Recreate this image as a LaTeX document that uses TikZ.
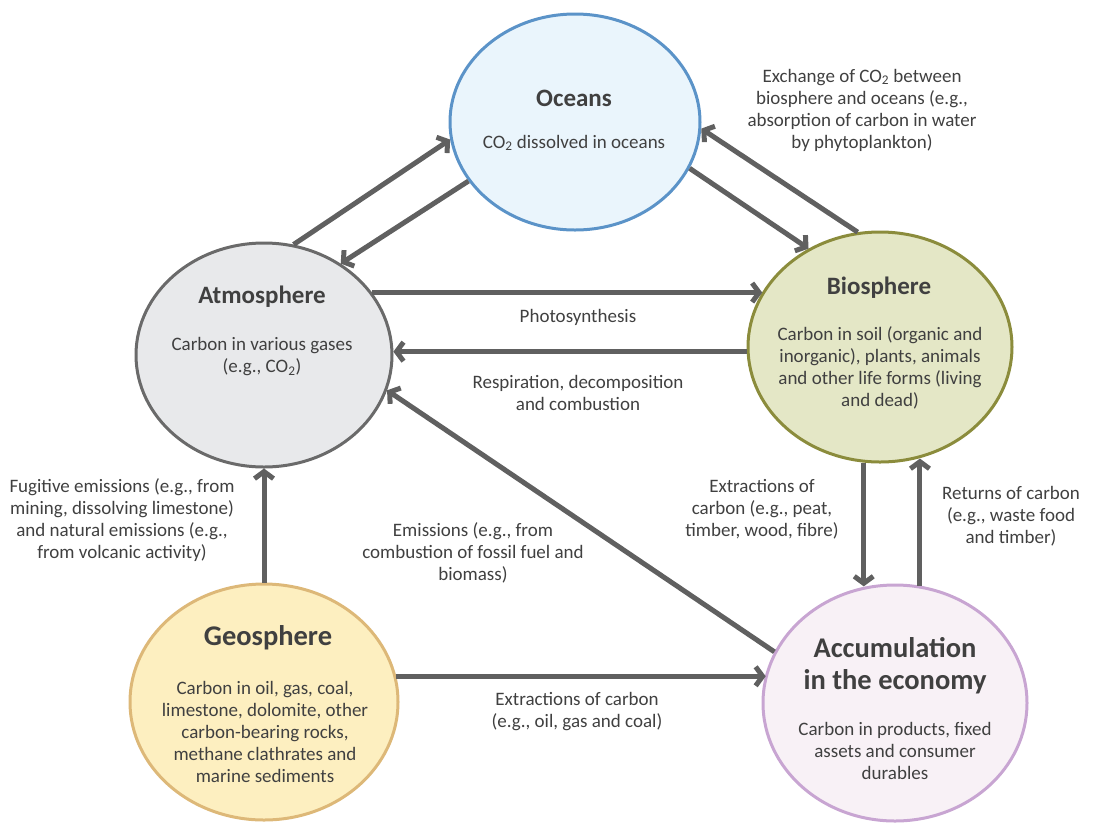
\documentclass[tikz,border=0pt]{standalone}
\usepackage{fontspec}
\setmainfont{Carlito}
\usetikzlibrary{shapes.geometric,arrows.meta}

\definecolor{txtgray}{HTML}{404040}
\definecolor{flowgray}{HTML}{606060}
\definecolor{oceanfill}{HTML}{EAF5FC}
\definecolor{oceanline}{HTML}{5B93C8}
\definecolor{atmfill}{HTML}{E8E9EB}
\definecolor{atmline}{HTML}{6A6A6A}
\definecolor{biofill}{HTML}{E4E7C6}
\definecolor{bioline}{HTML}{8B8C3C}
\definecolor{geofill}{HTML}{FDEFC0}
\definecolor{geoline}{HTML}{DDB878}
\definecolor{accfill}{HTML}{F8F1F6}
\definecolor{accline}{HTML}{C8A5D2}

\tikzstyle{sphere}=[ellipse,line width=3pt,inner sep=0pt]
\tikzstyle{title}=[text=txtgray,font=\fontsize{25}{30}\selectfont\bfseries]
\tikzstyle{bigtitle}=[text=txtgray,align=center,font=\fontsize{28.5}{32}\selectfont\bfseries]
\tikzstyle{body}=[text=txtgray,align=center,font=\fontsize{19}{22}\selectfont]
\tikzstyle{flow}=[line width=5pt,draw=flowgray,-{Straight Barb[length=7pt,width=19pt]}]

\begin{document}
\begin{tikzpicture}[x=1pt,y=-1pt]
\useasboundingbox (0,0) rectangle (1093,823);

% reservoirs
\node[sphere,fill=oceanfill,draw=oceanline,minimum width=250pt,minimum height=216pt] (ocn) at (575,122) {};
\node[sphere,fill=atmfill,draw=atmline,minimum width=256pt,minimum height=224pt] (atm) at (264,355) {};
\node[sphere,fill=biofill,draw=bioline,minimum width=264pt,minimum height=230pt] (bio) at (880,347) {};
\node[sphere,fill=geofill,draw=geoline,minimum width=268pt,minimum height=236pt] (geo) at (264,702) {};
\node[sphere,fill=accfill,draw=accline,minimum width=264pt,minimum height=236pt] (acc) at (895,703) {};

\node[title] (ocntitle) at (574,98) {Oceans};
\node[body] (ocntext) at (574,143) {CO\textsubscript{2} dissolved in oceans};
\node[title] (atmtitle) at (262,297) {Atmosphere};
\node[body] (atmtext) at (262,357) {Carbon in various gases\\(e.g., CO\textsubscript{2})};
\node[title] (biotitle) at (879,288) {Biosphere};
\node[body] (biotext) at (880,368) {Carbon in soil (organic and\\inorganic), plants, animals\\and other life forms (living\\and dead)};
\node[bigtitle] (geotitle) at (268,638) {Geosphere};
\node[body] (geotext) at (265,732) {Carbon in oil, gas, coal,\\limestone, dolomite, other\\carbon-bearing rocks,\\methane clathrates and\\marine sediments};
\node[bigtitle] (acctitle) at (895,666) {Accumulation\\in the economy};
\node[body] (acctext) at (895,751) {Carbon in products, fixed\\assets and consumer\\durables};

% flows
\draw[flow] (atm.75) -- (ocn.188);
\draw[flow] (ocn.209) -- (atm.50);
\draw[flow] (ocn.338) -- (bio.126);
\draw[flow] (bio.101) -- (ocn.357);
\draw[flow] (atm.30) -- (atm.30 -| bio.155);
\draw[flow] (bio.182) -- (bio.182 -| atm.2);
\draw[flow] (geo.north) -- (atm.south);
\draw[flow] (acc.157) -- (atm.344);
\draw[flow] (geo.11.7) -- (geo.11.7 -| acc.167.7);
\draw[flow] (bio.262.5) -- (bio.262.5 |- acc.104.6);
\draw[flow] (acc.78.8) -- (acc.78.8 |- bio.289);

% flow labels
\node[body] (exchange) at (862,110) {Exchange of CO\textsubscript{2} between\\biosphere and oceans (e.g.,\\absorption of carbon in water\\by phytoplankton)};
\node[body] (photo) at (578,317) {Photosynthesis};
\node[body] (resp) at (578,393) {Respiration, decomposition\\and combustion};
\node[body] (fugitive) at (122,520) {Fugitive emissions (e.g., from\\mining, dissolving limestone)\\and natural emissions (e.g.,\\from volcanic activity)};
\node[body] (emis) at (473,553) {Emissions (e.g., from\\combustion of fossil fuel and\\biomass)};
\node[body] (extrbio) at (762,509) {Extractions of\\carbon (e.g., peat,\\timber, wood, fibre)};
\node[body] (returns) at (1011,516) {Returns of carbon\\(e.g., waste food\\and timber)};
\node[body] (extrgeo) at (577,712) {Extractions of carbon\\(e.g., oil, gas and coal)};

\end{tikzpicture}
\end{document}
